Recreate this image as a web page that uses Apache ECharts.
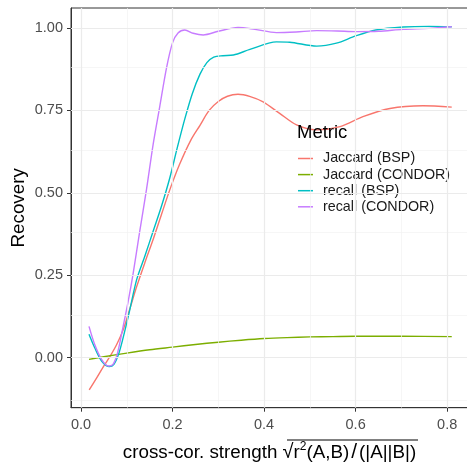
<!DOCTYPE html>
<html><head><meta charset="utf-8">
<script src="https://cdn.jsdelivr.net/npm/echarts@6/dist/echarts.min.js"></script>
<style>html,body{margin:0;padding:0;background:#fff}#c{width:467px;height:464px}</style>
</head><body><div id="c"></div>
<script>
const seriesNames = ['Jaccard (BSP)', 'Jaccard (CONDOR)', 'recall (BSP)', 'recall (CONDOR)'];
const seriesColors = ['#F8766D', '#7CAE00', '#00BFC4', '#C77CFF'];
const xTicks = [0, 0.2, 0.4, 0.6, 0.8];
const xMinor = [0.1, 0.3, 0.5, 0.7];
const yTicks = [0, 0.25, 0.5, 0.75, 1.0];
const yMinor = [-0.125, 0.125, 0.375, 0.625, 0.875];

const jaccardBSP = [[0.018,-0.098],[0.035,-0.06],[0.05,-0.025],[0.063,0.003],[0.078,0.04],[0.092,0.084],[0.106,0.145],[0.1215,0.215],[0.14,0.29],[0.158,0.36],[0.176,0.435],[0.194,0.509],[0.215,0.585],[0.24,0.66],[0.26,0.705],[0.28,0.75],[0.30,0.777],[0.32,0.793],[0.343,0.799],[0.37,0.792],[0.398,0.776],[0.434,0.741],[0.471,0.706],[0.515,0.691],[0.566,0.701],[0.616,0.731],[0.675,0.756],[0.747,0.764],[0.81,0.760]];
const jaccardCONDOR = [[0.0175,-0.005],[0.05,0.003],[0.1,0.014],[0.15,0.024],[0.2,0.032],[0.25,0.040],[0.3,0.047],[0.35,0.053],[0.4,0.058],[0.45,0.061],[0.5,0.063],[0.55,0.064],[0.6,0.065],[0.7,0.065],[0.81,0.064]];
const recallBSP = [[0.0175,0.071],[0.03,0.03],[0.045,-0.01],[0.062,-0.027],[0.072,-0.02],[0.082,0.01],[0.092,0.06],[0.105,0.135],[0.1215,0.236],[0.14,0.31],[0.158,0.385],[0.176,0.46],[0.194,0.545],[0.21,0.635],[0.227,0.725],[0.243,0.80],[0.26,0.86],[0.275,0.895],[0.29,0.912],[0.31,0.916],[0.333,0.918],[0.369,0.935],[0.427,0.958],[0.456,0.957],[0.515,0.945],[0.558,0.954],[0.60,0.976],[0.644,0.994],[0.704,1.003],[0.76,1.005],[0.81,1.004]];
const recallCONDOR = [[0.0175,0.095],[0.03,0.04],[0.045,-0.005],[0.06,-0.025],[0.07,-0.02],[0.08,0.015],[0.092,0.094],[0.103,0.17],[0.114,0.256],[0.128,0.38],[0.143,0.509],[0.158,0.65],[0.172,0.761],[0.187,0.88],[0.2,0.955],[0.212,0.985],[0.227,0.994],[0.245,0.984],[0.267,0.979],[0.30,0.99],[0.343,1.002],[0.38,0.996],[0.427,0.986],[0.47,0.988],[0.515,0.992],[0.56,0.991],[0.60,0.989],[0.65,0.99],[0.704,0.996],[0.76,0.999],[0.81,1.004]];
const seriesData = [jaccardBSP, jaccardCONDOR, recallBSP, recallCONDOR];

const chart = echarts.init(document.getElementById('c'), null, {renderer: 'canvas'});
const font = 'Liberation Sans, Arial, sans-serif';
const gridMajor = {color: '#EBEBEB', width: 1.2, type: 'solid'};
const gridMinor = {color: '#F2F2F2', width: 0.7, type: 'solid'};

const lineSeries = seriesNames.map((n, i) => ({
  name: n, type: 'line', data: seriesData[i], showSymbol: false, symbol: 'none',
  smooth: 0.3, z: 3,
  lineStyle: {color: seriesColors[i], width: 1.4}, itemStyle: {color: seriesColors[i]}
}));

const gridSeries = {
  name: 'gridlines', type: 'line', data: [], z: 1, silent: true,
  markLine: {
    silent: true, symbol: 'none', animation: false, label: {show: false},
    data: [
      ...xMinor.map(v => ({xAxis: v, lineStyle: gridMinor})),
      ...yMinor.map(v => ({yAxis: v, lineStyle: gridMinor})),
      ...xTicks.map(v => ({xAxis: v, lineStyle: gridMajor})),
      ...yTicks.map(v => ({yAxis: v, lineStyle: gridMajor}))
    ]
  }
};

chart.setOption({
  animation: false,
  backgroundColor: '#ffffff',
  textStyle: {fontFamily: font},
  grid: {left: 71, top: 8, width: 397, height: 399.7, containLabel: false, outerBoundsMode: 'none',
    show: true, borderColor: '#333333', borderWidth: 1, backgroundColor: 'transparent'},
  title: [{
    text: 'Metric', left: 297, top: 123.5, padding: 0,
    textStyle: {fontFamily: font, fontSize: 18.5, fontWeight: 'normal', color: '#000'}
  }],
  legend: {
    data: seriesNames, orient: 'vertical', left: 298, top: 151.5, padding: 0,
    itemWidth: 15, itemHeight: 14, itemGap: 2.1,
    icon: 'path://M0,0 H15 V1.5 H0 Z', symbolKeepAspect: true,
    textStyle: {fontFamily: font, fontSize: 14.3, color: '#1a1a1a', padding: [0, 0, 0, 5]}
  },
  xAxis: {
    type: 'value', min: -0.0218, max: 0.8455,
    name: '{t|cross-cor. strength }{s|√}{t|r}{p|2}{t|(A,B)}{d|/}{t|(|A||B|)}',
    nameLocation: 'middle', nameGap: 33, nameMoveOverlap: false,
    nameTextStyle: {
      fontFamily: font, fontSize: 18.8, color: '#000',
      rich: {
        t: {fontFamily: font, fontSize: 18.8, color: '#000', lineHeight: 24},
        s: {fontFamily: font, fontSize: 20, color: '#000', lineHeight: 24},
        p: {fontFamily: font, fontSize: 12, color: '#000', verticalAlign: 'top', lineHeight: 24, padding: [0,0,10,0]},
        d: {fontFamily: font, fontSize: 21, color: '#000', lineHeight: 24, padding: [0, 2, 0, 2]}
      }
    },
    axisLine: {show: true, onZero: false, lineStyle: {color: '#333333', width: 1}},
    axisTick: {show: true, length: 4, customValues: xTicks, lineStyle: {color: '#333333', width: 1}},
    axisLabel: {customValues: xTicks, formatter: v => v.toFixed(1), fontFamily: font, fontSize: 14.5, color: '#4D4D4D', margin: 10},
    splitLine: {show: false}
  },
  yAxis: {
    type: 'value', min: -0.1517, max: 1.0607,
    name: 'Recovery', nameLocation: 'middle', nameGap: 43, nameRotate: 90, nameMoveOverlap: false,
    nameTextStyle: {fontFamily: font, fontSize: 18.8, color: '#000'},
    axisLine: {show: true, onZero: false, lineStyle: {color: '#333333', width: 1}},
    axisTick: {show: true, length: 4, customValues: yTicks, lineStyle: {color: '#333333', width: 1}},
    axisLabel: {customValues: yTicks, formatter: v => v.toFixed(2), fontFamily: font, fontSize: 14.5, color: '#4D4D4D', margin: 8},
    splitLine: {show: false}
  },
  graphic: [{
    type: 'line', id: 'overline', z: 10,
    shape: {x1: 287, y1: 440, x2: 418, y2: 440},
    style: {stroke: '#000', lineWidth: 1}
  }],
  series: [gridSeries, ...lineSeries]
});
</script>
</body></html>
